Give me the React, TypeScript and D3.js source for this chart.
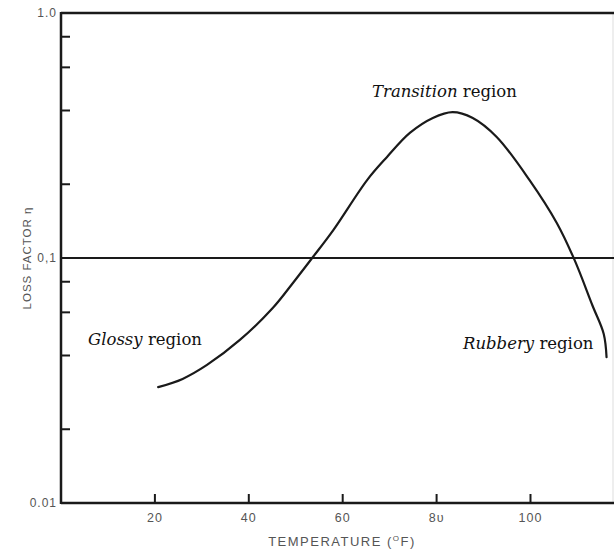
import React from "react";
import * as d3 from "d3";

const temperature = [20.7, 25.9, 31.1, 38.1, 45.1, 49.4, 53.5, 58.0, 65.2, 69.4, 74.3, 79.2, 83.4, 87.7, 92.8, 99.8, 105.6, 109.4, 113.2, 115.6, 116.2];
const lossFactor = [0.0297, 0.0321, 0.0366, 0.0463, 0.0625, 0.0791, 0.1, 0.13, 0.208, 0.258, 0.324, 0.373, 0.394, 0.373, 0.312, 0.208, 0.139, 0.098, 0.064, 0.049, 0.0394];
const xTicks = [20, 40, 60, 80, 100];
const xTickLabels = ["20", "40", "60", "8υ", "100"];
const yMajorTicks = [1.0, 0.1, 0.01];
const yMajorLabels = ["1.0", "0,1", "0.01"];
const yMinorTicks = [0.8, 0.6, 0.4, 0.2, 0.08, 0.06, 0.04, 0.02];
const refLine = 0.1;

export default function App() {
  const W = 614, H = 550;
  const x = d3.scaleLinear().domain([0, 118]).range([61, 615]);
  const y = d3.scaleLog().domain([0.01, 1]).range([503, 13]);
  const pts: [number, number][] = temperature.map((t, i) => [t, lossFactor[i]]);
  const line = d3.line<[number, number]>().x(d => x(d[0])).y(d => y(d[1])).curve(d3.curveCatmullRom.alpha(0.5));
  const axisColor = "#1a1a1a";
  const labelColor = "#555";
  const sans = "Liberation Sans, Arial, sans-serif";
  const serif = "'DejaVu Serif', serif";
  return (
    <svg width={W} height={H} style={{ position: "absolute", left: 0, top: 0, background: "#fff" }}>
      <line x1={613} x2={613} y1={13} y2={503} stroke="#ddd" strokeWidth={1} />
      <line x1={61} x2={614} y1={y(1)} y2={y(1)} stroke={axisColor} strokeWidth={2.5} />
      <line x1={61} x2={614} y1={y(0.01)} y2={y(0.01)} stroke={axisColor} strokeWidth={2.5} />
      <line x1={x(0)} x2={x(0)} y1={y(1) - 1} y2={y(0.01) + 1} stroke={axisColor} strokeWidth={2.5} />
      <line x1={x(0)} x2={614} y1={y(refLine)} y2={y(refLine)} stroke={axisColor} strokeWidth={2} />
      {yMinorTicks.map(v => (
        <line key={v} x1={x(0)} x2={x(0) + 9} y1={y(v)} y2={y(v)} stroke={axisColor} strokeWidth={2} />
      ))}
      {yMajorTicks.map((v, i) => (
        <text key={v} x={x(0) - 4} y={y(v) + 4} textAnchor="end" fontFamily={sans} fontSize={12} letterSpacing={1} fill={labelColor}>{yMajorLabels[i]}</text>
      ))}
      {xTicks.map((v, i) => (
        <g key={v}>
          <line x1={x(v)} x2={x(v)} y1={y(0.01)} y2={y(0.01) - 9} stroke={axisColor} strokeWidth={2} />
          <text x={x(v)} y={522} textAnchor="middle" fontFamily={sans} fontSize={12.5} letterSpacing={1} fill={labelColor}>{xTickLabels[i]}</text>
        </g>
      ))}
      <text x={342} y={546} textAnchor="middle" fontFamily={sans} fontSize={13} fill={labelColor} letterSpacing={1.5}>
        TEMPERATURE (<tspan fontSize={8} dy={-5}>O</tspan><tspan dy={5}>F)</tspan>
      </text>
      <text transform="translate(31,258) rotate(-90)" textAnchor="middle" fontFamily={sans} fontSize={11.5} fill={labelColor} letterSpacing={1}>
        LOSS FACTOR η
      </text>
      <path d={line(pts) || ""} fill="none" stroke={axisColor} strokeWidth={2.2} strokeLinejoin="round" strokeLinecap="round" />
      <text x={372} y={97} fontFamily={serif} fontSize={16.5} fill="#111">
        <tspan fontStyle="italic">Transition</tspan> region
      </text>
      <text x={88} y={345} fontFamily={serif} fontSize={16.5} fill="#111">
        <tspan fontStyle="italic">Glossy</tspan> region
      </text>
      <text x={463} y={349} fontFamily={serif} fontSize={16.5} fill="#111">
        <tspan fontStyle="italic">Rubbery</tspan> region
      </text>
    </svg>
  );
}
